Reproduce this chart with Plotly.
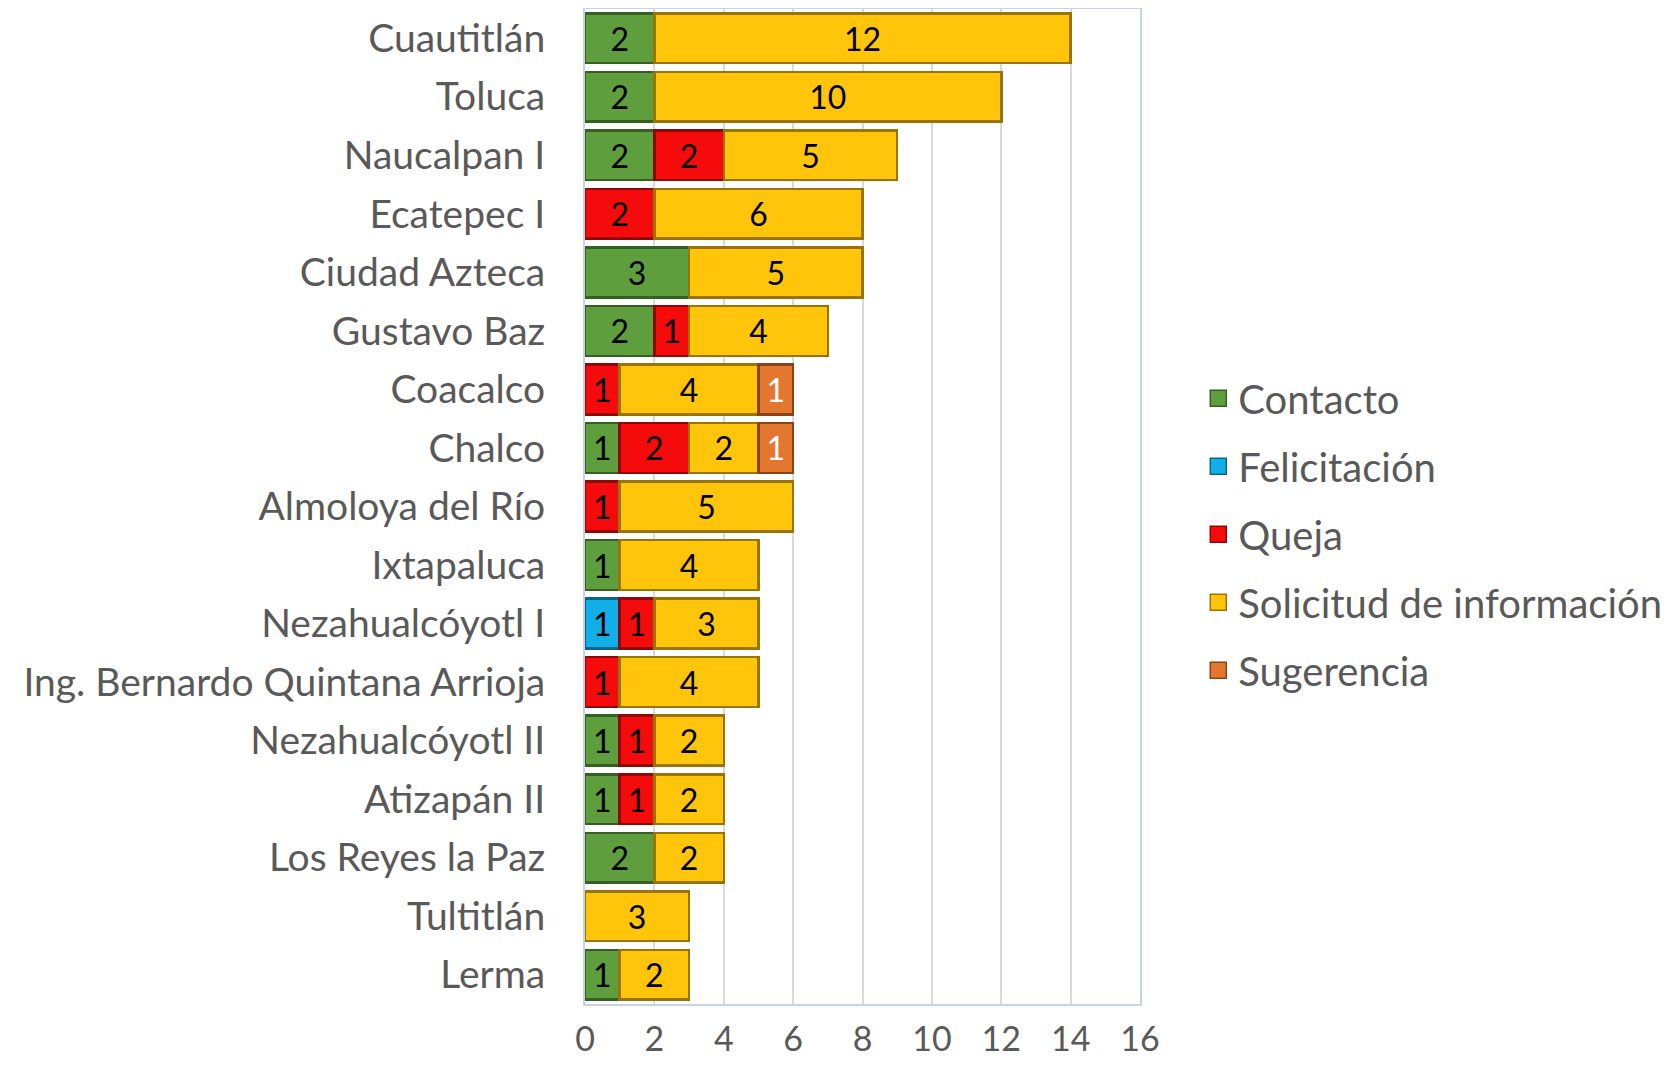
import plotly.graph_objects as go

categories = ["Cuautitlán", "Toluca", "Naucalpan I", "Ecatepec I", "Ciudad Azteca",
              "Gustavo Baz", "Coacalco", "Chalco", "Almoloya del Río", "Ixtapaluca",
              "Nezahualcóyotl I", "Ing. Bernardo Quintana Arrioja", "Nezahualcóyotl II",
              "Atizapán II", "Los Reyes la Paz", "Tultitlán", "Lerma"]

contacto     = [2, 2, 2, None, 3, 2, None, 1, None, 1, None, None, 1, 1, 2, None, 1]
felicitacion = [None, None, None, None, None, None, None, None, None, None, 1, None, None, None, None, None, None]
queja        = [None, None, 2, 2, None, 1, 1, 2, 1, None, 1, 1, 1, 1, None, None, None]
solicitud    = [12, 10, 5, 6, 5, 4, 4, 2, 5, 4, 3, 4, 2, 2, 2, 3, 2]
sugerencia   = [None, None, None, None, None, None, 1, 1, None, None, None, None, None, None, None, None, None]

x_ticks = [0, 2, 4, 6, 8, 10, 12, 14, 16]

FONT = "Lato, Open Sans, sans-serif"

series = [
    ("Contacto", contacto, "#5E9E3C", "#375F22", "black"),
    ("Felicitación", felicitacion, "#12AEE8", "#06668A", "black"),
    ("Queja", queja, "#F50B0B", "#8E0808", "black"),
    ("Solicitud de información", solicitud, "#FFC50A", "#9A7400", "black"),
    ("Sugerencia", sugerencia, "#E4772F", "#8A4318", "white"),
]

fig = go.Figure()
for name, vals, col, edge, tcol in series:
    fig.add_trace(go.Bar(
        y=categories, x=vals, name=name, orientation="h",
        marker=dict(color=col, line=dict(color=edge, width=2.5)),
        text=[("" if v is None else str(v)) for v in vals],
        textposition="inside", insidetextanchor="middle", textangle=0,
        textfont=dict(family=FONT, size=32, color=tcol),
        constraintext="none",
        showlegend=False,
    ))
# legend entries with larger square symbols
for name, vals, col, edge, tcol in series:
    fig.add_trace(go.Scatter(
        x=[None], y=[None], mode="markers", name=name,
        marker=dict(symbol="square", size=20, color=col, line=dict(color=edge, width=1.5)),
        legendgroup=name, showlegend=True,
    ))

fig.update_layout(
    barmode="stack", bargap=0.15,
    width=1659, height=1051,
    margin=dict(l=577, r=527, t=1, b=55, autoexpand=False),
    plot_bgcolor="white", paper_bgcolor="white",
    font=dict(family=FONT, color="#595959", size=40),
    legend=dict(x=1.105, xanchor="left", y=0.472, yanchor="middle",
                font=dict(size=40, color="#595959"), tracegroupgap=13,
                itemwidth=30, traceorder="grouped", itemsizing="trace"),
    showlegend=True,
)
fig.update_xaxes(range=[0, 16], tickvals=x_ticks, showgrid=True, gridcolor="#D9D9D9",
                 gridwidth=1.5, zeroline=False, showline=True, linecolor="#C5D3EA",
                 linewidth=2, mirror=True, ticklabelstandoff=4,
                 tickfont=dict(size=34, color="#595959"))
fig.update_yaxes(autorange="reversed", showline=True, linecolor="#C5D3EA", linewidth=2,
                 mirror=True, ticklabelstandoff=30,
                 tickfont=dict(size=39, color="#595959"))

fig.write_html("out.html")
